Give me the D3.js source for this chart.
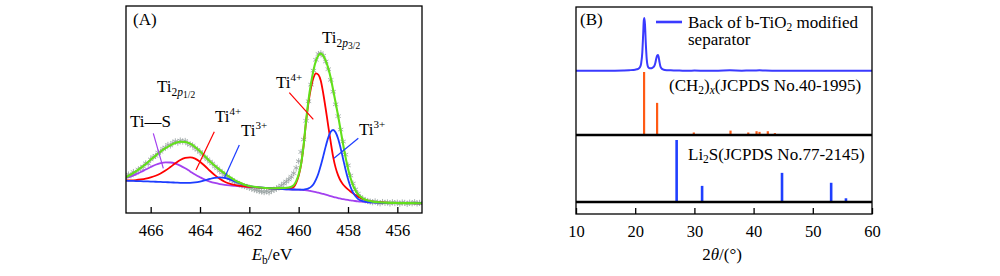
<!DOCTYPE html>
<html><head><meta charset="utf-8">
<script src="https://cdn.jsdelivr.net/npm/d3@7"></script>
<style>
body{margin:0;background:#fff}
svg{display:block}
text{font-family:"Liberation Serif","Times New Roman",serif;fill:#000}
</style>
</head><body>
<svg id="c" width="1000" height="276"></svg>
<script>
// ---------- Panel A: Ti 2p XPS ----------
const bindingEnergy = [467.0,466.8,466.6,466.4,466.2,466.0,465.8,465.6,465.4,465.2,465.0,464.8,464.6,464.4,464.2,464.0,463.8,463.6,463.4,463.2,463.0,462.8,462.6,462.4,462.2,462.0,
  461.6,461.2,460.8,460.4,460.2,460.1,
  460.0,459.9,459.8,459.7,459.6,459.5,459.4,459.3,459.2,459.1,459.0,458.9,458.8,458.7,458.6,458.5,458.4,458.3,458.2,458.1,458.0,457.9,457.8,
  457.6,457.4,457.2,457.0,456.5,456.0,455.5,455.0];
const tiS = [16.9,17.7,18.7,19.8,21.0,22.2,23.3,24.1,24.5,24.4,23.9,22.9,21.6,20.1,18.6,17.3,16.1,15.2,14.5,13.96,13.59,13.31,13.1,12.92,12.74,12.6,
  12.28,11.96,11.7,11.4,11.35,11.33,
  11.3,11.2,11.1,10.95,10.8,10.55,10.3,10.05,9.8,9.5,9.2,8.85,8.5,8.15,7.8,7.5,7.2,6.95,6.7,6.5,6.3,6.1,5.95,
  5.6,5.4,5.2,5.1,4.9,4.8,4.75,4.7];
const ti4 = [15.7,15.75,15.9,16.2,16.6,17.2,18.0,19.1,20.5,22.2,24.0,25.6,26.6,26.9,26.3,24.8,22.7,20.4,18.3,16.5,15.1,14.17,13.54,13.13,12.85,12.64,
  12.28,11.96,11.7,11.7,12.6,14.6,
  18.0,23.5,32.5,44,53.5,60.5,65.3,67.5,66.8,63.8,57.5,50,42,34.2,27,21.8,18.2,15.6,13.8,12.5,11.4,10.4,9.5,
  7.9,6.8,6.0,5.5,5.0,4.8,4.75,4.7];
const ti3 = [15.6,15.52,15.44,15.36,15.28,15.2,15.1,15.0,14.9,14.8,14.7,14.58,14.54,14.57,14.75,15.15,15.75,16.44,17.01,17.22,16.96,16.26,15.32,14.38,13.6,13.03,
  12.35,11.96,11.7,11.4,11.35,11.33,
  11.3,11.3,11.3,11.5,11.9,12.6,13.9,16.1,19.1,23.1,27.6,32.3,36.4,39.2,40.1,38.9,35.9,31.4,26.2,21.0,16.4,12.7,9.95,
  6.8,5.7,5.25,5.1,4.9,4.8,4.75,4.7];
const envelope = [17.2,18.6,20.1,21.8,23.7,25.7,27.7,29.6,31.3,32.7,33.8,34.4,34.3,33.5,31.9,29.8,27.4,25.0,22.8,20.9,19.1,17.4,15.9,14.7,13.7,13.07,
  12.35,11.96,12.0,12.3,13.4,15.4,
  18.6,23.9,32.7,44.55,54.6,62.55,68.9,73.55,76.1,77.0,75.9,73.45,69.9,65.25,59.3,53.2,46.9,40.05,33.3,27.0,21.5,17.0,13.5,
  9.1,7.1,6.05,5.5,5.0,4.8,4.75,4.7];
const rawBE = [467.0,466.9,466.8,466.7,466.6,466.5,466.4,466.3,466.2,466.1,466.0,465.9,465.8,465.7,465.6,465.5,465.4,465.3,465.2,465.1,
  465.0,464.9,464.8,464.7,464.6,464.5,464.4,464.3,464.2,464.1,464.0,463.9,463.8,463.7,463.6,463.5,463.4,463.3,463.2,463.1,
  463.0,462.9,462.8,462.7,462.6,462.5,462.4,462.3,462.2,462.1,462.0,461.9,461.8,461.7,461.6,461.5,461.4,461.3,461.2,461.1,
  461.0,460.9,460.8,460.7,460.6,460.5,460.4,460.3,460.2,460.1,460.0,459.9,459.8,459.7,459.6,459.5,459.4,459.3,459.2,459.1,
  459.0,458.9,458.8,458.7,458.6,458.5,458.4,458.3,458.2,458.1,458.0,457.9,457.8,457.7,457.6,457.5,457.4,457.3,457.2,457.1,
  457.0,456.9,456.8,456.7,456.6,456.5,456.4,456.3,456.2,456.1,456.0,455.9,455.8,455.7,455.6,455.5,455.4,455.3,455.2,455.1];
const rawIntensity = [17.8,18.6,18.2,19.8,19.4,21.0,21.6,22.4,24.0,23.8,25.9,27.0,27.6,29.2,29.6,31.0,31.6,32.9,32.6,33.9,
  34.6,34.0,35.0,34.5,34.8,33.6,33.1,32.6,31.3,30.6,29.5,28.4,27.0,26.0,24.8,23.9,22.5,21.6,20.4,19.5,
  18.4,17.7,16.7,15.9,15.2,14.5,14.0,13.3,13.0,12.6,12.2,11.8,11.3,11.0,10.6,10.4,10.1,10.5,10.0,10.8,
  11.2,11.8,12.5,13.3,14.2,15.2,16.2,17.5,19.2,21.8,25.0,29.5,35.5,44.5,54.0,62.0,68.8,74.0,76.8,77.2,
  76.0,73.2,69.5,64.3,58.6,52.5,46.8,40.3,34.5,28.2,23.0,18.1,14.2,11.4,9.3,7.7,6.8,6.1,5.8,5.5,
  5.2,5.6,5.0,4.7,5.3,4.9,5.1,4.6,5.2,4.8,5.0,4.5,5.1,4.9,4.4,5.0,4.7,5.2,4.6,4.9];
const panelATicks = [466,464,462,460,458,456];

// ---------- Panel B: XRD ----------
const twoTheta = [10,12,14,16,18,19,20,20.5,20.8,21.0,21.2,21.35,21.45,21.55,21.65,21.8,21.95,22.1,22.3,22.6,22.9,23.2,23.4,23.55,23.7,23.85,23.95,24.1,24.25,24.45,24.7,25,26,27,28,29,30,32,34,36,38,40,41,42,44,46,48,50,52,54,56,58,60];
const xrdIntensity = [0.4,0.6,0.3,0.6,1.0,1.5,2.5,4,7,14,35,70,95,100,88,50,22,10,6,5,6,9,15,23,29,30,27,17,9,5,3,2,1.2,0.8,0.7,0.6,0.8,0.5,0.6,1.2,0.7,0.9,1.3,0.8,0.6,0.5,0.7,0.4,0.6,0.5,0.6,0.5,0.4];
const ch2Pos = [21.5,23.7,29.9,36.1,39.1,40.5,41.0,42.4,43.6];
const ch2Int = [100,51,4,7,4,6,5,6,3];
const li2sPos = [27.0,31.3,44.8,53.1,55.6];
const li2sInt = [100,26,47,31,6];
const panelBTicks = [10,20,30,40,50,60];

const FONT = '"Liberation Serif","Times New Roman",serif';
const FS = 17;
const svg = d3.select('#c');

// ===== Panel A =====
const ax = d3.scaleLinear().domain([467,455]).range([126,422]);
const ay = d3.scaleLinear().domain([0,100]).range([213,6]);
svg.append('clipPath').attr('id','clipA').append('rect')
  .attr('x',126).attr('y',6).attr('width',296).attr('height',207);
const plotA = svg.append('g').attr('clip-path','url(#clipA)');
const raw = rawBE.map((e,i)=>[e,rawIntensity[i]]);
const starSym = d3.symbol().type(d3.symbolAsterisk || d3.symbolCross).size(26);
plotA.selectAll('path.pt').data(raw).join('path')
  .attr('class','pt')
  .attr('transform',d=>`translate(${ax(d[0])},${ay(d[1])})`)
  .attr('d',starSym)
  .attr('fill','none').attr('stroke','#9aa3a3').attr('stroke-width',1).attr('opacity',0.85);
const lineA = d3.line().x(d=>ax(d[0])).y(d=>ay(d[1])).curve(d3.curveMonotoneX);
[[tiS,'#a341ef',1.8],[ti4,'#ff0000',1.8],[ti3,'#1d3dff',1.8],[envelope,'#62e01a',2.1]].forEach(([vals,col,w])=>{
  plotA.append('path').attr('d',lineA(bindingEnergy.map((e,i)=>[e,vals[i]])))
    .attr('fill','none').attr('stroke',col).attr('stroke-width',w);
});
svg.append('rect').attr('x',126).attr('y',6).attr('width',296).attr('height',207)
  .attr('fill','none').attr('stroke','#000').attr('stroke-width',1.3);
const gxa = svg.append('g').attr('transform','translate(0,213)')
  .call(d3.axisBottom(ax).tickValues(panelATicks).tickSizeInner(-6).tickSizeOuter(0).tickPadding(11).tickFormat(d3.format('d')));
gxa.select('.domain').remove();
gxa.attr('font-size',16.5).attr('font-family',FONT);
gxa.selectAll('line').attr('stroke-width',1.3);

// axis title A
const tA = svg.append('text').attr('x',272).attr('y',260).attr('text-anchor','middle').attr('font-size',FS);
tA.append('tspan').attr('font-style','italic').text('E');
tA.append('tspan').attr('font-size',11.5).attr('dy',4).text('b');
tA.append('tspan').attr('dy',-4).text('/eV');

svg.append('text').attr('x',133).attr('y',25).attr('font-size',FS).text('(A)');

function tiLabel(x,y,sup){
  const t = svg.append('text').attr('x',x).attr('y',y).attr('font-size',FS);
  t.append('tspan').text('Ti');
  t.append('tspan').attr('font-size',11).attr('dy',-7).text(sup);
}
function tiSub(x,y,frac){
  const t = svg.append('text').attr('x',x).attr('y',y).attr('font-size',FS);
  t.append('tspan').text('Ti');
  t.append('tspan').attr('font-size',11.5).attr('dy',3.5).text('2');
  t.append('tspan').attr('font-size',11.5).attr('font-style','italic').text('p');
  t.append('tspan').attr('font-size',9.5).attr('dy',2.5).text(frac);
}
tiSub(322,43,'3/2');
tiSub(157,92,'1/2');
svg.append('text').attr('x',130).attr('y',127).attr('font-size',FS).text('Ti\u2014S');
tiLabel(215,122,'4+');
tiLabel(241,136,'3+');
tiLabel(276,88,'4+');
tiLabel(359,135,'3+');
const leaders = [
  [153.3,133.3,163.3,168.3,'#a341ef'],
  [214.3,131.7,196,170,'#ff0000'],
  [239.3,145,224.3,178.3,'#1d3dff'],
  [289.3,92.7,313.3,119.3,'#ff0000'],
  [358.3,138.3,334,158.3,'#1d3dff']
];
leaders.forEach(([x1,y1,x2,y2,c])=>svg.append('line').attr('x1',x1).attr('y1',y1).attr('x2',x2).attr('y2',y2)
  .attr('stroke',c).attr('stroke-width',1.2));

// ===== Panel B =====
const bx = d3.scaleLinear().domain([10,60]).range([576,872]);
const byCurve = d3.scaleLinear().domain([0,100]).range([71,18]);
const byCh2 = d3.scaleLinear().domain([0,100]).range([135,72]);
const byLi = d3.scaleLinear().domain([0,100]).range([202,140]);

svg.append('clipPath').attr('id','clipB').append('rect')
  .attr('x',576).attr('y',7).attr('width',296).attr('height',207);
const plotB = svg.append('g').attr('clip-path','url(#clipB)');
plotB.append('path')
  .attr('d',d3.line().x(d=>bx(d[0])).y(d=>byCurve(d[1])).curve(d3.curveMonotoneX)(twoTheta.map((t,i)=>[t,xrdIntensity[i]])))
  .attr('fill','none').attr('stroke','#3a3aff').attr('stroke-width',2);
plotB.selectAll('line.ch2').data(ch2Pos).join('line').attr('class','ch2')
  .attr('x1',d=>bx(d)).attr('x2',d=>bx(d)).attr('y1',byCh2(0)).attr('y2',(d,i)=>byCh2(ch2Int[i]))
  .attr('stroke','#ff5a14').attr('stroke-width',2.2);
plotB.selectAll('line.li').data(li2sPos).join('line').attr('class','li')
  .attr('x1',d=>bx(d)).attr('x2',d=>bx(d)).attr('y1',byLi(0)).attr('y2',(d,i)=>byLi(li2sInt[i]))
  .attr('stroke','#1f3fff').attr('stroke-width',2.6);
[byCh2(0), byLi(0)].forEach(y=>svg.append('line').attr('x1',576).attr('x2',872).attr('y1',y).attr('y2',y)
  .attr('stroke','#000').attr('stroke-width',2.6));
svg.append('rect').attr('x',576).attr('y',7).attr('width',296).attr('height',207)
  .attr('fill','none').attr('stroke','#000').attr('stroke-width',1.3);
const gxb = svg.append('g').attr('transform','translate(0,214)')
  .call(d3.axisBottom(bx).tickValues(panelBTicks).tickSizeInner(-6).tickSizeOuter(0).tickPadding(11).tickFormat(d3.format('d')));
gxb.select('.domain').remove();
gxb.attr('font-size',16.5).attr('font-family',FONT);
gxb.selectAll('line').attr('stroke-width',1.3);

const tB = svg.append('text').attr('x',722).attr('y',260).attr('text-anchor','middle').attr('font-size',FS);
tB.append('tspan').text('2');
tB.append('tspan').attr('font-style','italic').text('\u03b8');
tB.append('tspan').text('/(\u00b0)');

svg.append('text').attr('x',580).attr('y',25).attr('font-size',FS).text('(B)');
svg.append('line').attr('x1',656).attr('x2',682).attr('y1',22).attr('y2',22).attr('stroke','#3a3aff').attr('stroke-width',2.6);
const lg = svg.append('text').attr('x',688).attr('y',28).attr('font-size',FS);
lg.append('tspan').text('Back of b-TiO');
lg.append('tspan').attr('font-size',11.5).attr('dy',3).text('2');
lg.append('tspan').attr('dy',-3).text(' modified');
svg.append('text').attr('x',688).attr('y',45).attr('font-size',FS).text('separator');

const c1 = svg.append('text').attr('x',669).attr('y',91).attr('font-size',FS);
c1.append('tspan').text('(CH');
c1.append('tspan').attr('font-size',11.5).attr('dy',3).text('2');
c1.append('tspan').attr('dy',-3).text(')');
c1.append('tspan').attr('font-size',11.5).attr('dy',3).attr('font-style','italic').text('x');
c1.append('tspan').attr('dy',-3).text('(JCPDS No.40-1995)');

const c2 = svg.append('text').attr('x',688).attr('y',160).attr('font-size',FS);
c2.append('tspan').text('Li');
c2.append('tspan').attr('font-size',11.5).attr('dy',3).text('2');
c2.append('tspan').attr('dy',-3).text('S(JCPDS No.77-2145)');
</script>
</body></html>
